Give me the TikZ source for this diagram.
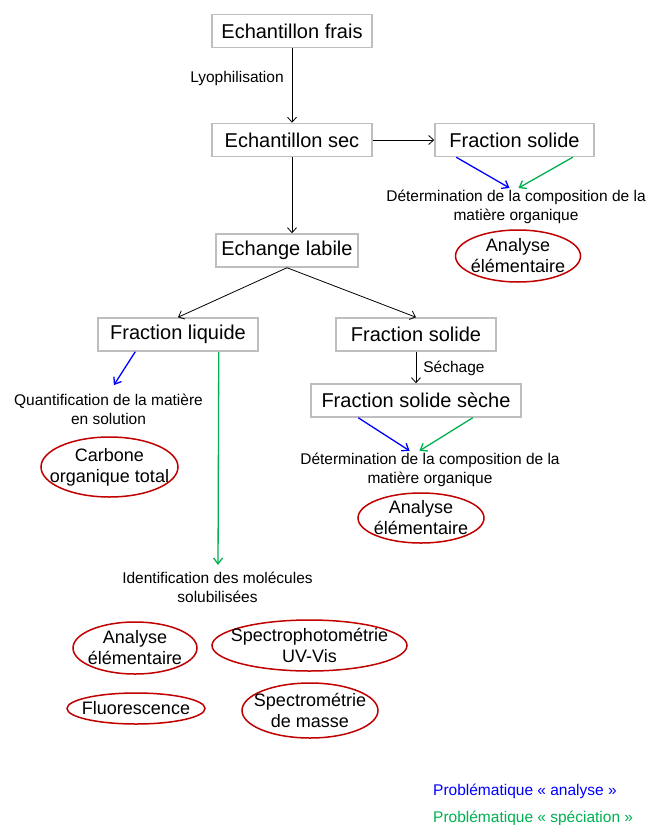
\documentclass[tikz,border=0pt]{standalone}
\usepackage{fontspec}
\setmainfont{Liberation Sans}
\usetikzlibrary{shapes.geometric,arrows.meta}
\definecolor{probblue}{RGB}{0,0,255}
\definecolor{probgreen}{RGB}{0,176,80}
\definecolor{ellred}{RGB}{192,0,0}
\definecolor{boxgray}{RGB}{190,190,190}

\begin{document}
\begin{tikzpicture}[x=1pt, y=-1pt]
			\tikzset{etape/.style={draw=boxgray, line width=1.5pt, inner sep=0pt, minimum height=33pt, font=\fontsize{20}{22}\selectfont},
				methode/.style={ellipse, draw=ellred, line width=1.5pt, inner xsep=-15pt, inner ysep=-10pt, align=center, font=\fontsize{18}{21}\selectfont},
				texte/.style={inner sep=0pt, align=center, font=\fontsize{15.5}{19}\selectfont},
				fleche/.style={-{Straight Barb[length=5pt,width=9pt]}, line width=0.8pt},
				analyse/.style={-{Straight Barb[length=6pt,width=9pt]}, line width=1.3pt, draw=probblue},
				speciation/.style={-{Straight Barb[length=6pt,width=9pt]}, line width=1.3pt, draw=probgreen}}
			\useasboundingbox (0,0) rectangle (649,825);
			
			\node[etape, minimum width=160pt] (v_0) at (292,31) {Echantillon frais};
			\node[etape, minimum width=160pt] (v_1) at (292,140) {Echantillon sec};
			\node[etape, minimum width=159pt] (v_2) at (514.5,140) {Fraction solide};
			\node[etape, minimum width=142pt] (v_3) at (287,250.5) {Echange labile};
			\node[etape, minimum width=160pt] (v_4) at (178,334.5) {Fraction liquide};
			\node[etape, minimum width=160pt] (v_5) at (416,334.5) {Fraction solide};
			\node[etape, minimum width=210pt] (v_6) at (416,400.5) {Fraction solide sèche};
			
			\node[texte] (l_0) at (237,78) {Lyophilisation};
			\node[texte] (l_1) at (454,368) {Séchage};
			
			\node[texte] (t_0) at (516,207) {Détermination de la composition de la\\matière organique};
			\node[texte] (t_1) at (430,470) {Détermination de la composition de la\\matière organique};
			\node[texte] (t_2) at (108.5,409) {Quantification de la matière\\en solution};
			\node[texte] (t_3) at (217.5,587.5) {Identification des molécules\\solubilisées};
			
			\node[methode, minimum width=125pt, minimum height=52pt] (e_0) at (518,256) {Analyse\\élémentaire};
			\node[methode, minimum width=126pt, minimum height=50pt] (e_1) at (421,518) {Analyse\\élémentaire};
			\node[methode, minimum width=137pt, minimum height=60pt] (e_2) at (109.5,467) {Carbone\\organique total};
			\node[methode, minimum width=124pt, minimum height=52pt] (e_3) at (135,648) {Analyse\\élémentaire};
			\node[methode, minimum width=195pt, minimum height=51pt] (e_4) at (309.5,645.5) {Spectrophotométrie\\UV-Vis};
			\node[methode, minimum width=138pt, minimum height=31pt] (e_5) at (136,708.5) {Fluorescence};
			\node[methode, minimum width=136pt, minimum height=55pt] (e_6) at (310,710.5) {Spectrométrie\\de masse};
			
			\draw[fleche] (v_0) -- (v_1);
			\draw[fleche] (v_1) -- (v_2);
			\draw[fleche] (v_1.south) -- (v_1.south |- v_3.north);
			\draw[fleche] (v_3.south) -- (v_4.north);
			\draw[fleche] (v_3.south) -- (v_5.north);
			\draw[fleche] (v_5) -- (v_6);
			
			\draw[analyse, shorten >=4pt] ([xshift=22pt]v_2.south west) -- ([xshift=-3pt]t_0.north);
			\draw[speciation, shorten >=4pt] ([xshift=-22pt]v_2.south east) -- ([xshift=-1pt]t_0.north);
			\draw[analyse, shorten >=4pt] ([xshift=48pt]v_6.south west) -- ([xshift=-17pt]t_1.north);
			\draw[speciation, shorten >=4pt] ([xshift=-49pt]v_6.south east) -- ([xshift=-14pt]t_1.north);
			\draw[analyse, shorten >=10pt] ([xshift=38pt]v_4.south west) -- (t_2.north);
			\draw[speciation, shorten >=7pt] ([xshift=-40pt]v_4.south east) -- ([xshift=0.5pt]t_3.north);
			
			\node[texte, anchor=west, text=probblue] (g_0) at (433,791) {Problématique « analyse »};
			\node[texte, anchor=west, text=probgreen] (g_1) at (433,818) {Problématique « spéciation »};
		\end{tikzpicture}
\end{document}
